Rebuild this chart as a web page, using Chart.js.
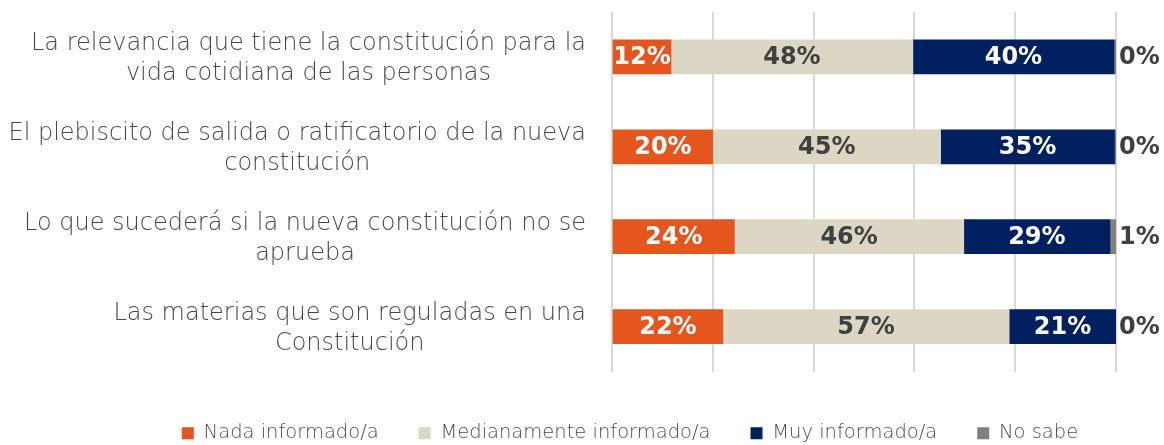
<!DOCTYPE html>
<html>
<head>
<meta charset="utf-8">
<script src="https://cdn.jsdelivr.net/npm/chart.js@4.4.1/dist/chart.umd.min.js"></script>
<style>
  html, body { margin: 0; padding: 0; background: #ffffff; }
  #wrap { width: 1164px; height: 445px; position: relative; }
</style>
</head>
<body>
<div id="wrap"><canvas id="c"></canvas></div>
<script>
const categories = [
  ["La relevancia que tiene la constitución para la", "vida cotidiana de las personas"],
  ["El plebiscito de salida o ratificatorio de la nueva", "constitución"],
  ["Lo que sucederá si la nueva constitución no se", "aprueba"],
  ["Las materias que son reguladas en una", "Constitución"]
];
const seriesNames = ["Nada informado/a", "Medianamente informado/a", "Muy informado/a", "No sabe"];
const nada = [11.7, 20.0, 24.3, 22.0];
const mediana = [48.0, 45.2, 45.5, 56.8];
const muy = [39.9, 34.5, 29.0, 21.2];
const noSabe = [0.4, 0.3, 1.2, 0.0];
const seriesColors = ["#E5561E", "#DCD7C5", "#002060", "#808080"];
const labelColors = ["#ffffff", "#404040", "#ffffff", "#404040"];
const xTicks = [0, 20, 40, 60, 80, 100];

const TEXT_FONT = "'DejaVu Sans', sans-serif";
const VALUE_FONT = "'DejaVu Sans', sans-serif";

const barLabels = {
  id: 'barLabels',
  afterDatasetsDraw(chart) {
    const ctx = chart.ctx;
    ctx.save();
    ctx.font = "bold 24px " + VALUE_FONT;
    ctx.textBaseline = "middle";
    chart.data.datasets.forEach((ds, di) => {
      const meta = chart.getDatasetMeta(di);
      if (meta.hidden) return;
      meta.data.forEach((bar, i) => {
        const v = ds.data[i];
        const txt = Math.round(v) + "%";
        ctx.fillStyle = labelColors[di];
        if (di === 3) {
          ctx.textAlign = "left";
          ctx.fillText(txt, bar.x + 3, bar.y + 1);
        } else {
          ctx.textAlign = "center";
          ctx.fillText(txt, (bar.x + bar.base) / 2, bar.y + 1);
        }
      });
    });
    ctx.restore();
  }
};

// category labels: block right-aligned to the axis, lines centered within the block
const categoryLabels = {
  id: 'categoryLabels',
  afterDraw(chart) {
    const ctx = chart.ctx;
    const y = chart.scales.y;
    ctx.save();
    ctx.font = "200 24px " + TEXT_FONT;
    ctx.fillStyle = "#474747";
    ctx.textAlign = "center";
    ctx.textBaseline = "middle";
    const right = y.right - 26;
    const lh = 30;
    chart.data.labels.forEach((lines, i) => {
      const cy = y.getPixelForTick(i) + 2;
      const w = Math.max(...lines.map(l => ctx.measureText(l).width));
      const cx = right - w / 2;
      const top = cy - (lines.length - 1) * lh / 2;
      lines.forEach((l, k) => ctx.fillText(l, cx, top + k * lh));
    });
    ctx.restore();
  }
};

// let the legend row use the full canvas width and center it like the original
const legendShift = {
  id: 'legendShift',
  beforeLayout(chart) {
    const lg = chart.legend;
    if (lg && !lg._wide) {
      const orig = lg.update;
      lg.update = function (w, h, m) { return orig.call(this, 1164, h, m); };
      lg._wide = true;
    }
  },
  afterLayout(chart) {
    const lg = chart.legend;
    if (lg) { lg.left = 96; lg.right = 1164; lg.width = 1068; }
  }
};

new Chart(document.getElementById('c'), {
  type: 'bar',
  data: {
    labels: categories,
    datasets: [nada, mediana, muy, noSabe].map((d, i) => ({
      label: seriesNames[i],
      data: d,
      backgroundColor: seriesColors[i],
      borderWidth: 0,
      barThickness: 34
    }))
  },
  options: {
    indexAxis: 'y',
    responsive: true,
    maintainAspectRatio: false,
    animation: false,
    layout: { padding: { top: 12, right: 48, bottom: -8, left: 0 } },
    scales: {
      x: {
        stacked: true,
        min: 0, max: 100,
        afterBuildTicks(scale) { scale.ticks = xTicks.map(v => ({ value: v })); },
        afterFit(scale) { scale.height = 12; scale.paddingLeft = 0; scale.paddingRight = 0; },
        ticks: { display: false },
        grid: { color: "#D9D9D9", lineWidth: 2, drawTicks: false },
        border: { display: false }
      },
      y: {
        stacked: true,
        afterFit(scale) { scale.width = 612; scale.paddingTop = 0; scale.paddingBottom = 0; },
        grid: { display: false, drawTicks: false },
        border: { display: false },
        ticks: { display: false }
      }
    },
    plugins: {
      legend: {
        position: 'bottom',
        labels: {
          color: "#4d4d4d",
          boxWidth: 12,
          boxHeight: 12,
          padding: 40,
          font: { family: TEXT_FONT, size: 19.5, weight: 200 }
        }
      },
      tooltip: { enabled: false }
    }
  },
  plugins: [barLabels, categoryLabels, legendShift]
});
</script>
</body>
</html>
